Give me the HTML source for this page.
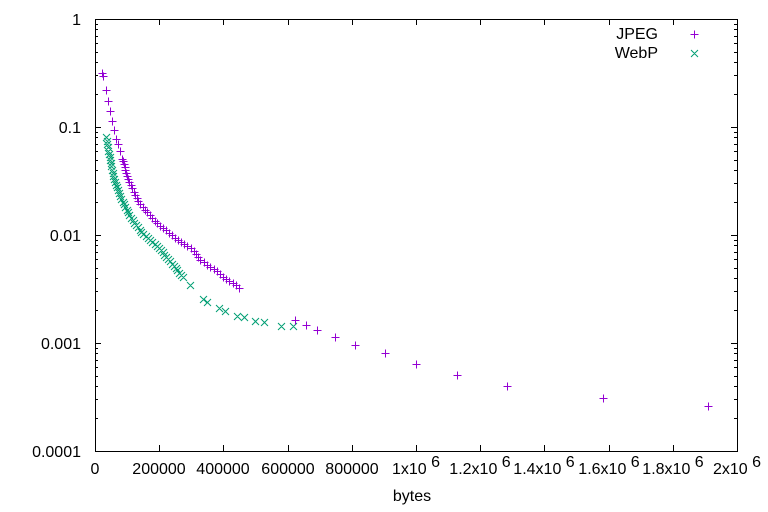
<!DOCTYPE html>
<html><head><meta charset="utf-8"><style>
html,body{margin:0;padding:0;background:#fff;}
svg{display:block;font-family:"Liberation Sans",sans-serif;}
</style></head><body>
<svg id="s" width="768" height="512" xmlns="http://www.w3.org/2000/svg">
<rect width="768" height="512" fill="#fff"/>
<g id="ax" stroke="#000" stroke-width="1" fill="none"></g>
<g font-size="16" fill="#000" text-anchor="end">
<text x="81" y="25">1</text>
<text x="81" y="133">0.1</text>
<text x="81" y="241">0.01</text>
<text x="81" y="349">0.001</text>
<text x="81" y="457">0.0001</text>
</g>
<g font-size="16" fill="#000" text-anchor="middle">
<text x="95" y="474">0</text>
<text x="159" y="474">200000</text>
<text x="223" y="474">400000</text>
<text x="288" y="474">600000</text>
<text x="352" y="474">800000</text>
<text x="416" y="474">1x10<tspan dy="-7"> 6</tspan></text>
<text x="480" y="474">1.2x10<tspan dy="-7"> 6</tspan></text>
<text x="544" y="474">1.4x10<tspan dy="-7"> 6</tspan></text>
<text x="609" y="474">1.6x10<tspan dy="-7"> 6</tspan></text>
<text x="673" y="474">1.8x10<tspan dy="-7"> 6</tspan></text>
<text x="737" y="474">2x10<tspan dy="-7"> 6</tspan></text>
<text x="412" y="501">bytes</text>
</g>
<g font-size="16" fill="#000" text-anchor="end">
<text x="658" y="39">JPEG</text>
<text x="658" y="58">WebP</text>
</g>
<g id="pts" stroke-width="1" fill="none"></g>
</svg>
<script>
var ax=document.getElementById('ax'),pts=document.getElementById('pts');
var L=95,R=737,T=19,B=451,d='';
d+='M'+L+'.5 '+T+'.5H'+R+'.5V'+B+'.5H'+L+'.5Z';
for(var k=0;k<=4;k++){var y0=T+k*108;d+='M'+L+' '+(y0+.5)+'h6M'+R+' '+(y0+.5)+'h-6';
 if(k<4)for(var m=2;m<10;m++){var y=y0+108-108*Math.log10(m);y=Math.round(y)+0.5;d+='M'+L+' '+y+'h3M'+R+' '+y+'h-3';}}
for(var i=0;i<=10;i++){var x=Math.round(L+i*64.2)+0.5;d+='M'+x+' '+B+'v-6M'+x+' '+T+'v6';}
var p=document.createElementNS('http://www.w3.org/2000/svg','path');p.setAttribute('d',d);ax.appendChild(p);
function sample(a,n,e){var segs=[],tot=0;for(var i=1;i<a.length;i++){var l=Math.hypot(a[i][0]-a[i-1][0],a[i][1]-a[i-1][1]);segs.push(l);tot+=l;}
 var out=[];for(var j=0;j<n;j++){var t=Math.pow(j/(n-1),e)*tot,i=0;while(i<segs.length-1&&t>segs[i]){t-=segs[i];i++;}var f=segs[i]?Math.min(1,t/segs[i]):0;
 out.push([a[i][0]+(a[i+1][0]-a[i][0])*f,a[i][1]+(a[i+1][1]-a[i][1])*f]);}return out;}
var jtop=[[102,73],[103,76],[106,90],[108,101],[110,111],[112,121],[114,130],[116,139],[118,144],[120,151]];
var jd=[[122,159],[125,168],[127,176],[130,184],[134,192],[138,201],[145,210],[152,218],[160,226],[168,232],[175,238],[182,243],[190,248],[196,253],[200,260],[206,264],[213,268],[218,272],[224,278],[234,284],[239,288]];
var J=jtop.concat(sample(jd,50,1.1)).concat([[295,320],[306,325],[317,330],[335,337],[355,345],[385,353],[416,364],[457,375],[507,386],[603,398],[708,406]]);
var wd=[[106,137],[108,148],[110,160],[113,175],[116,185],[120,196],[125,207],[130,216],[136,225],[142,233],[150,240],[158,247],[163,253],[173,265],[183,277]];
var W=sample(wd,55,0.95).concat([[190,285],[203,299],[207,302],[219,308],[225,311],[237,316],[244,317],[255,321],[264,322],[281,326],[293,326]]);
var dj='',dw='';
J.forEach(function(q){var x=Math.round(q[0])+0.5,y=Math.round(q[1])+0.5;dj+='M'+(x-4)+' '+y+'h8M'+x+' '+(y-4)+'v8';});
W.forEach(function(q){var x=Math.round(q[0])+0.5,y=Math.round(q[1])+0.5;dw+='M'+(x-3.5)+' '+(y-3.5)+'l7 7M'+(x-3.5)+' '+(y+3.5)+'l7 -7';});
dj+='M690.5 34.5h8M694.5 30.5v8';dw+='M691 50l7 7M691 57l7 -7';
function mk(dd,c){var e=document.createElementNS('http://www.w3.org/2000/svg','path');e.setAttribute('d',dd);e.setAttribute('stroke',c);pts.appendChild(e);}
mk(dw,'#009e73');mk(dj,'#9400d3');
</script>
</body></html>
